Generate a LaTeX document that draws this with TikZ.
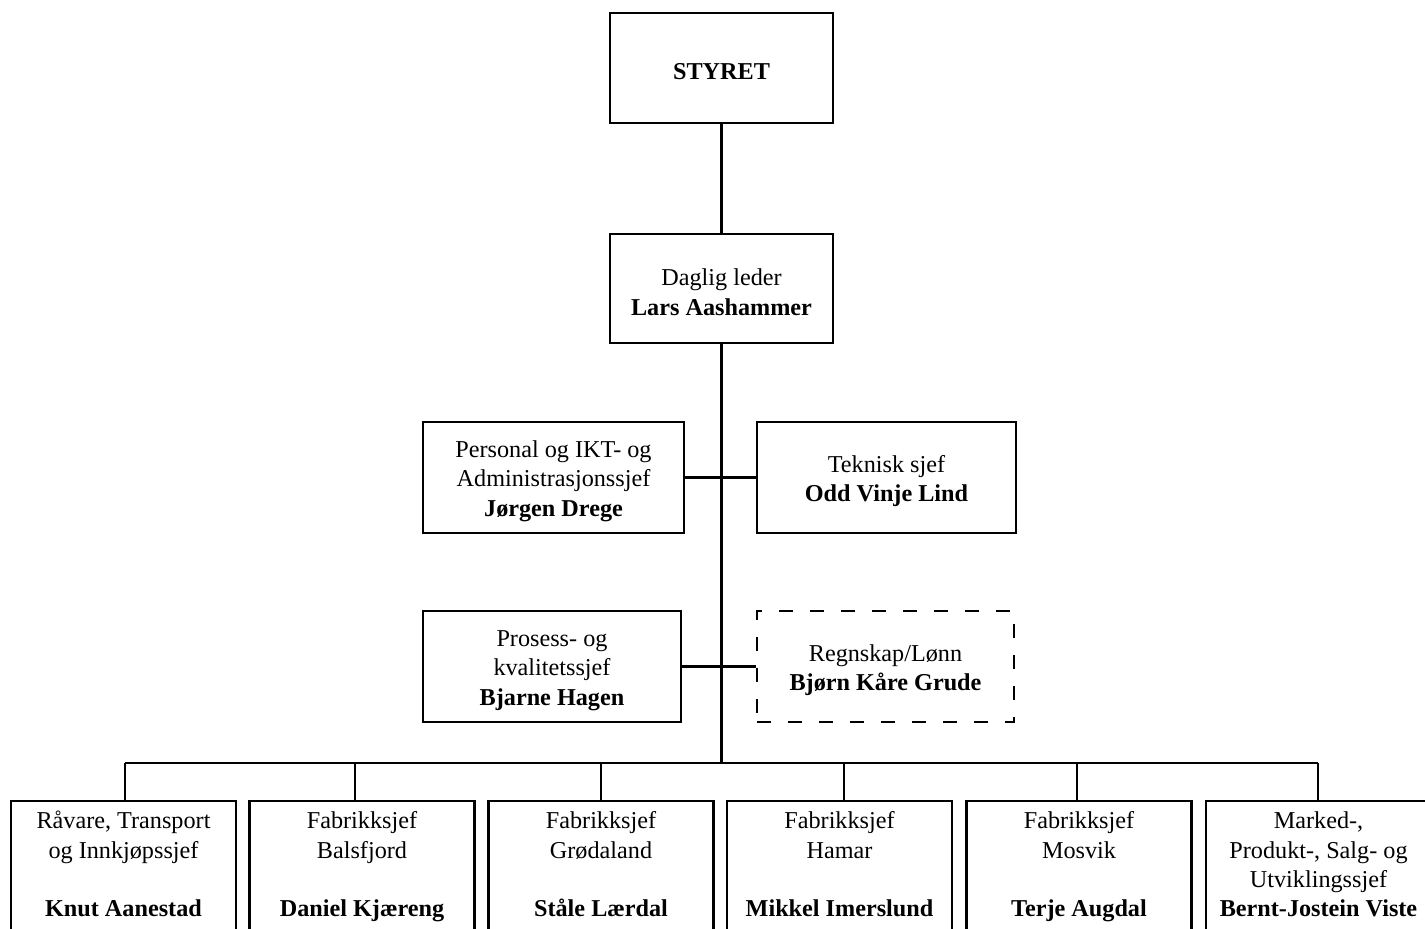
\documentclass[tikz,border=0pt]{standalone}
\usepackage{fontspec}
\setmainfont{Liberation Serif}
\newcommand{\toppad}{\rule{0pt}{24bp}}
\begin{document}
\begin{tikzpicture}[x=1bp,y=-1bp,line width=2.2bp,
  box/.style={draw,rectangle,align=center,inner sep=0pt,
    font=\fontsize{24.3}{29.5}\selectfont},
  midbox/.style={box,minimum height=111bp},
  dashbox/.style={midbox,dash pattern=on 14bp off 17bp},
  bbox/.style={box,anchor=north,minimum width=225bp,inner ysep=7bp}]
\useasboundingbox (0,0) rectangle (1425,928);
\clip (0,0) rectangle (1425,928);
\node[box,minimum width=223bp,minimum height=110bp] (styret) at (721.5,68) {\toppad\textbf{STYRET}};
\node[box,minimum width=223bp,minimum height=109bp] (leder) at (721.5,288.5) {\toppad Daglig leder\\\textbf{Lars Aashammer}};
\node[midbox,minimum width=261bp] (personal) at (553.5,477.5) {\toppad Personal og IKT- og\\Administrasjonssjef\\\textbf{Jørgen Drege}};
\node[midbox,minimum width=259bp] (teknisk) at (886.5,477.5) {\toppad Teknisk sjef\\\textbf{Odd Vinje Lind}};
\node[midbox,minimum width=258bp] (prosess) at (552,666.5) {\toppad Prosess- og\\kvalitetssjef\\\textbf{Bjarne Hagen}};
\node[dashbox,minimum width=257bp] (regnskap) at (885.5,666.5) {\toppad Regnskap/Lønn\\\textbf{Bjørn Kåre Grude}};
\node[bbox] (b1) at (123.5,800) {\strut Råvare, Transport\\\strut og Innkjøpssjef\\\strut\\\strut\textbf{Knut Aanestad}\\\strut\\\strut};
\node[bbox] (b2) at (362,800) {\strut Fabrikksjef\\\strut Balsfjord\\\strut\\\strut\textbf{Daniel Kjæreng}\\\strut\\\strut};
\node[bbox] (b3) at (601,800) {\strut Fabrikksjef\\\strut Grødaland\\\strut\\\strut\textbf{Ståle Lærdal}\\\strut\\\strut};
\node[bbox] (b4) at (839.5,800) {\strut Fabrikksjef\\\strut Hamar\\\strut\\\strut\textbf{Mikkel Imerslund}\\\strut\\\strut};
\node[bbox] (b5) at (1079,800) {\strut Fabrikksjef\\\strut Mosvik\\\strut\\\strut\textbf{Terje Augdal}\\\strut\\\strut};
\node[bbox] (b6) at (1318.5,800) {\strut Marked-,\\\strut Produkt-, Salg- og\\\strut Utviklingssjef\\\strut\textbf{Bernt-Jostein Viste}\\\strut\\\strut};
\coordinate (bus) at (721.5,763);
\coordinate (d1) at (125,763);
\coordinate (d2) at (355,763);
\coordinate (d3) at (601,763);
\coordinate (d4) at (844,763);
\coordinate (d5) at (1077,763);
\coordinate (d6) at (1318,763);
\draw (styret) -- (leder);
\draw (leder.south) -- (bus);
\draw (personal) -- (teknisk);
\draw (prosess) -- (regnskap);
\draw (d1) -- (d6);
\draw (d1) -- (d1 |- b1.north);
\draw (d2) -- (d2 |- b2.north);
\draw (d3) -- (d3 |- b3.north);
\draw (d4) -- (d4 |- b4.north);
\draw (d5) -- (d5 |- b5.north);
\draw (d6) -- (d6 |- b6.north);
\end{tikzpicture}
\end{document}
